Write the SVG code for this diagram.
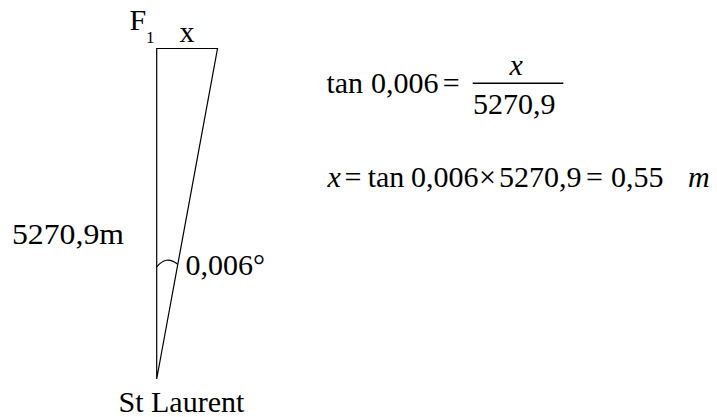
<svg xmlns="http://www.w3.org/2000/svg" width="717" height="417" viewBox="0 0 717 417">
<style>
.ln{stroke:#000;stroke-width:1.2;fill:none}
</style>
<rect width="717" height="417" fill="#fff"/>
<g id="triangle">
<path class="ln" d="M156.7,48.5 L156.7,379 L217.5,48.5 Z"/>
<path class="ln" d="M156.7,267 Q166,255 177.3,264"/>
</g>
<g font-family="Liberation Serif" font-size="30" fill="#000">
<g id="labels">
<text x="129.5" y="30">F</text>
<text x="146" y="43" font-size="17">1</text>
<text x="179.5" y="41.7">x</text>
<text x="12" y="244" textLength="112" lengthAdjust="spacingAndGlyphs">5270,9m</text>
<text x="185.5" y="275">0,006°</text>
<text x="118.5" y="411.7">St Laurent</text>
</g>
<g id="equation1">
<text y="93.3"><tspan x="326.4">tan</tspan><tspan x="371">0,006</tspan><tspan x="442.8">=</tspan></text>
<text font-style="italic" x="509.5" y="75">x</text>
<line x1="472.7" y1="83.3" x2="563.3" y2="83.3" stroke="#000" stroke-width="1.4"/>
<text x="473" y="114">5270,9</text>
</g>
<g id="equation2">
<text y="186.7"><tspan font-style="italic" x="327.5">x</tspan><tspan x="344.5">=</tspan><tspan x="367.7">tan</tspan><tspan x="411">0,006</tspan><tspan x="479">×</tspan><tspan x="499">5270,9</tspan><tspan x="586">=</tspan><tspan x="611">0,55</tspan><tspan font-style="italic" x="688">m</tspan></text>
</g>
</g>
</svg>
